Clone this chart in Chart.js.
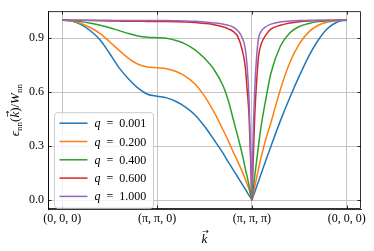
<!DOCTYPE html>
<html>
<head>
<meta charset="utf-8">
<script src="https://cdn.jsdelivr.net/npm/chart.js@4.4.1/dist/chart.umd.min.js"></script>
<style>
  html, body { margin: 0; padding: 0; background: #fff; }
  canvas { display: block; }
</style>
</head>
<body>
<canvas id="dispersion" width="374" height="251"></canvas>
<script>
// path position along (0,0,0) -> (pi,pi,0) -> (pi,pi,pi) -> (0,0,0), one unit per segment
const kPos = [0, 0.1, 0.2, 0.3, 0.4, 0.5, 0.6, 0.7, 0.8, 0.9, 1.0,
  1.1, 1.2, 1.3, 1.4, 1.5, 1.6, 1.7, 1.75, 1.8, 1.85, 1.9, 1.93, 1.95, 1.97, 1.99, 2.0,
  2.01, 2.03, 2.05, 2.07, 2.1, 2.15, 2.2, 2.3, 2.4, 2.5, 2.6, 2.7, 2.8, 2.9, 3.0];
const kTickPos = [0, 1, 2, 3];
const kTickLabels = ['(0, 0, 0)', '(π, π, 0)', '(π, π, π)', '(0, 0, 0)'];
const yTickVals = [0, 0.3, 0.6, 0.9];

const qLabels = ['0.001', '0.200', '0.400', '0.600', '1.000'];
const colors = ['#1f77b4', '#ff7f0e', '#2ca02c', '#d62728', '#9467bd'];

const eps_q0001 = [1.0, 0.995, 0.975, 0.94, 0.89, 0.815, 0.735, 0.673, 0.622, 0.588, 0.577,
  0.568, 0.548, 0.517, 0.473, 0.41, 0.335, 0.257, 0.212, 0.17, 0.128, 0.085, 0.06, 0.043, 0.026, 0.009, 0.0,
  0.015, 0.045, 0.075, 0.105, 0.15, 0.225, 0.298, 0.44, 0.57, 0.69, 0.8, 0.89, 0.955, 0.99, 1.0];
const eps_q0200 = [1.0, 0.996, 0.982, 0.958, 0.925, 0.88, 0.832, 0.788, 0.755, 0.74, 0.735,
  0.73, 0.715, 0.688, 0.645, 0.578, 0.49, 0.385, 0.33, 0.27, 0.215, 0.155, 0.115, 0.088, 0.06, 0.02, 0.0,
  0.025, 0.075, 0.125, 0.175, 0.245, 0.345, 0.43, 0.615, 0.765, 0.868, 0.935, 0.972, 0.99, 0.998, 1.0];
const eps_q0400 = [1.0, 0.998, 0.992, 0.983, 0.972, 0.958, 0.942, 0.926, 0.912, 0.905, 0.903,
  0.9, 0.887, 0.867, 0.835, 0.788, 0.726, 0.63, 0.555, 0.455, 0.355, 0.25, 0.175, 0.13, 0.08, 0.027, 0.0,
  0.045, 0.135, 0.22, 0.305, 0.42, 0.57, 0.705, 0.855, 0.93, 0.965, 0.982, 0.992, 0.997, 0.999, 1.0];
const eps_q0600 = [1.0, 1.0, 0.999, 0.998, 0.997, 0.996, 0.995, 0.994, 0.994, 0.993, 0.993,
  0.993, 0.992, 0.99, 0.987, 0.982, 0.975, 0.962, 0.952, 0.938, 0.91, 0.83, 0.74, 0.61, 0.465, 0.155, 0.0,
  0.16, 0.47, 0.66, 0.8, 0.87, 0.92, 0.95, 0.972, 0.985, 0.992, 0.996, 0.998, 0.999, 1.0, 1.0];
const eps_q1000 = [1.0, 1.0, 1.0, 0.999, 0.999, 0.999, 0.998, 0.998, 0.998, 0.998, 0.998,
  0.998, 0.997, 0.996, 0.994, 0.99, 0.985, 0.978, 0.972, 0.962, 0.942, 0.9, 0.84, 0.74, 0.55, 0.2, 0.0,
  0.3, 0.62, 0.8, 0.9, 0.94, 0.965, 0.978, 0.99, 0.995, 0.998, 0.999, 1.0, 1.0, 1.0, 1.0];

const series = [eps_q0001, eps_q0200, eps_q0400, eps_q0600, eps_q1000];

const serif = "'Liberation Serif', 'DejaVu Serif', serif";

function partWidth(ctx, p) {
  ctx.font = (p.it ? 'italic ' : '') + p.sz + 'px ' + serif;
  return ctx.measureText(p.t).width;
}

// draws a row of text pieces centred on cx, with optional sub-/superscript offsets and vector arrows
function drawParts(ctx, parts, cx, baseline) {
  let total = 0;
  parts.forEach(p => total += partWidth(ctx, p));
  let x = cx - total / 2;
  ctx.textAlign = 'left';
  ctx.textBaseline = 'alphabetic';
  parts.forEach(p => {
    const w = partWidth(ctx, p);
    ctx.fillText(p.t, x, baseline + (p.dy || 0));
    if (p.arrow) {
      ctx.font = "8px 'DejaVu Sans'";
      const aw = ctx.measureText('→').width;
      ctx.fillText('→', x + w / 2 - aw / 2 + 1, baseline - p.sz * 0.72);
    }
    x += w;
  });
}

const decorations = {
  id: 'decorations',
  afterDraw(chart) {
    const ctx = chart.ctx;
    const a = chart.chartArea;
    const xs = chart.scales.x, ys = chart.scales.y;
    ctx.save();
    ctx.fillStyle = '#000';
    ctx.strokeStyle = '#000';
    ctx.lineWidth = 0.8;

    // inward ticks on all four sides
    ctx.beginPath();
    kTickPos.forEach(v => {
      const px = Math.round(xs.getPixelForValue(v)) + 0.5;
      ctx.moveTo(px, a.bottom); ctx.lineTo(px, a.bottom - 3.5);
      ctx.moveTo(px, a.top); ctx.lineTo(px, a.top + 3.5);
    });
    yTickVals.forEach(v => {
      const py = Math.round(ys.getPixelForValue(v)) + 0.5;
      ctx.moveTo(a.left, py); ctx.lineTo(a.left + 3.5, py);
      ctx.moveTo(a.right, py); ctx.lineTo(a.right - 3.5, py);
    });
    ctx.stroke();
    ctx.strokeRect(a.left + 0.5, a.top + 0.5, a.right - a.left - 1, a.bottom - a.top - 1);

    // legend box
    const lx = a.left + 6.5, ly = a.top + 101.5, lw = 99, lh = 95.5;
    ctx.beginPath();
    ctx.roundRect(lx, ly, lw, lh, 3);
    ctx.fillStyle = 'rgba(255,255,255,0.8)';
    ctx.fill();
    ctx.strokeStyle = '#cccccc';
    ctx.lineWidth = 1;
    ctx.stroke();
    chart.data.datasets.forEach((ds, i) => {
      const yy = ly + 10.5 + i * 18.3;
      ctx.strokeStyle = ds.borderColor;
      ctx.lineWidth = 1.5;
      ctx.beginPath();
      ctx.moveTo(lx + 5, yy); ctx.lineTo(lx + 33, yy);
      ctx.stroke();
      ctx.fillStyle = '#000';
      const parts = [{ t: 'q', it: true, sz: 12 }, { t: '\u2002=\u2002' + qLabels[i], sz: 12 }];
      let tw = 0;
      parts.forEach(p => tw += partWidth(ctx, p));
      drawParts(ctx, parts, lx + 40 + tw / 2, yy + 4);
    });

    // axis titles
    ctx.fillStyle = '#000';
    drawParts(ctx, [{ t: 'k', it: true, sz: 13, arrow: true }], (a.left + a.right) / 2, 243);
    ctx.save();
    ctx.translate(15, (a.top + a.bottom) / 2);
    ctx.rotate(-Math.PI / 2);
    drawParts(ctx, [
      { t: 'ϵ', it: true, sz: 13 },
      { t: 'nn', sz: 9, dy: 3 },
      { t: '(', sz: 13 },
      { t: 'k', it: true, sz: 13, arrow: true },
      { t: ')/', sz: 13 },
      { t: 'W', it: true, sz: 13 },
      { t: 'nn', sz: 9, dy: 3 }
    ], 0, 4);
    ctx.restore();
    ctx.restore();
  }
};

new Chart(document.getElementById('dispersion').getContext('2d'), {
  type: 'line',
  data: {
    datasets: series.map((vals, i) => ({
      label: 'q = ' + qLabels[i],
      data: kPos.map((k, j) => ({ x: k, y: vals[j] })),
      borderColor: colors[i],
      borderWidth: 1.5,
      pointRadius: 0,
      fill: false,
      cubicInterpolationMode: 'monotone',
      order: series.length - i
    }))
  },
  options: {
    responsive: false,
    animation: false,
    devicePixelRatio: 1,
    layout: { padding: { top: 6, right: 13, left: 0, bottom: 0 } },
    plugins: { legend: { display: false }, tooltip: { enabled: false } },
    scales: {
      x: {
        type: 'linear',
        min: -0.15,
        max: 3.15,
        afterBuildTicks: s => { s.ticks = kTickPos.map(v => ({ value: v })); },
        afterFit: s => { s.height = 42; },
        ticks: {
          autoSkip: false,
          maxRotation: 0,
          padding: 3,
          color: '#000',
          font: { family: serif, size: 12 },
          callback: (v, i) => kTickLabels[i]
        },
        grid: { color: '#c4c4c4', lineWidth: 1, drawTicks: false },
        border: { display: true, color: '#000', width: 0.8 }
      },
      y: {
        type: 'linear',
        min: -0.05,
        max: 1.05,
        afterBuildTicks: s => { s.ticks = yTickVals.map(v => ({ value: v })); },
        afterFit: s => { s.width = 48; },
        ticks: {
          padding: 4,
          color: '#000',
          font: { family: serif, size: 12 },
          callback: v => v.toFixed(1)
        },
        grid: { color: '#c4c4c4', lineWidth: 1, drawTicks: false },
        border: { display: true, color: '#000', width: 0.8 }
      }
    }
  },
  plugins: [decorations]
});
</script>
</body>
</html>
